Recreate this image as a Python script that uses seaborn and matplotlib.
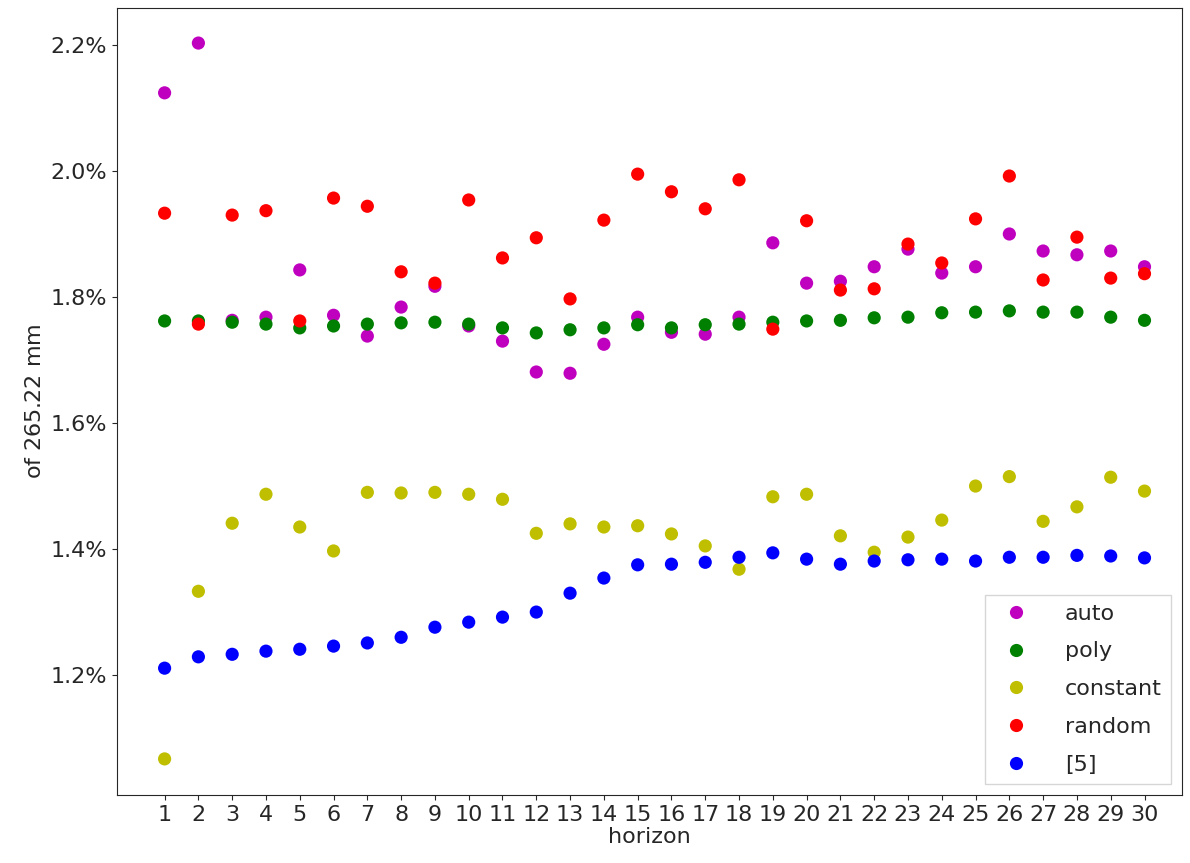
import pandas as pd
import matplotlib.pyplot as plt
import matplotlib.ticker as mticker
import seaborn as sns

horizon = list(range(1, 31))

auto = [2.124, 2.203, 1.763, 1.768, 1.843, 1.771, 1.738, 1.784, 1.817, 1.754,
        1.730, 1.681, 1.679, 1.725, 1.768, 1.744, 1.741, 1.768, 1.886, 1.822,
        1.825, 1.848, 1.876, 1.838, 1.848, 1.900, 1.873, 1.867, 1.873, 1.848]
poly = [1.762, 1.762, 1.760, 1.757, 1.751, 1.754, 1.757, 1.759, 1.760, 1.757,
        1.751, 1.743, 1.748, 1.751, 1.756, 1.751, 1.756, 1.757, 1.760, 1.762,
        1.763, 1.767, 1.768, 1.775, 1.776, 1.778, 1.776, 1.776, 1.768, 1.763]
constant = [1.067, 1.333, 1.441, 1.487, 1.435, 1.397, 1.490, 1.489, 1.490, 1.487,
            1.479, 1.425, 1.440, 1.435, 1.437, 1.424, 1.405, 1.368, 1.483, 1.487,
            1.421, 1.395, 1.419, 1.446, 1.500, 1.515, 1.444, 1.467, 1.514, 1.492]
random_ = [1.933, 1.757, 1.930, 1.937, 1.762, 1.957, 1.944, 1.840, 1.822, 1.954,
           1.862, 1.894, 1.797, 1.922, 1.995, 1.967, 1.940, 1.986, 1.749, 1.921,
           1.811, 1.813, 1.884, 1.854, 1.924, 1.992, 1.827, 1.895, 1.830, 1.837]
ref5 = [1.211, 1.229, 1.233, 1.238, 1.241, 1.246, 1.251, 1.260, 1.276, 1.284,
        1.292, 1.300, 1.330, 1.354, 1.375, 1.376, 1.379, 1.387, 1.394, 1.384,
        1.376, 1.381, 1.383, 1.384, 1.381, 1.387, 1.387, 1.390, 1.389, 1.386]

names = ["auto", "poly", "constant", "random", "[5]"]
series = [auto, poly, constant, random_, ref5]
colors = ["m", "g", "y", "r", "b"]

df = pd.concat([pd.DataFrame({"horizon": horizon, "value": s, "method": n})
                for n, s in zip(names, series)])

sns.set_style("ticks")
plt.rcParams["font.family"] = ["DejaVu Sans"]
plt.rcParams["font.size"] = 16

fig, ax = plt.subplots(figsize=(11.9, 8.63), dpi=100)
sns.scatterplot(data=df, x="horizon", y="value", hue="method", hue_order=names,
                palette=dict(zip(names, colors)), s=90, edgecolor="none", ax=ax)

ax.set_xticks(horizon)
ax.set_xlim(-0.42, 31.1)
ax.set_ylim(1.01, 2.259)
ax.set_yticks([1.2, 1.4, 1.6, 1.8, 2.0, 2.2])
ax.yaxis.set_major_formatter(mticker.FuncFormatter(lambda v, p: f"{v:.1f}%"))
ax.tick_params(labelsize=16)
ax.set_xlabel("horizon", fontsize=16, labelpad=2)
ax.set_ylabel("of $265.22$ mm", fontsize=16)

leg = ax.legend(loc="lower right", fontsize=16, title=None, markerscale=1.0,
                handletextpad=1.2, labelspacing=0.8, fancybox=False)

fig.subplots_adjust(left=0.098, right=0.993, top=0.991, bottom=0.079)
fig.savefig("out.png", dpi=100)
